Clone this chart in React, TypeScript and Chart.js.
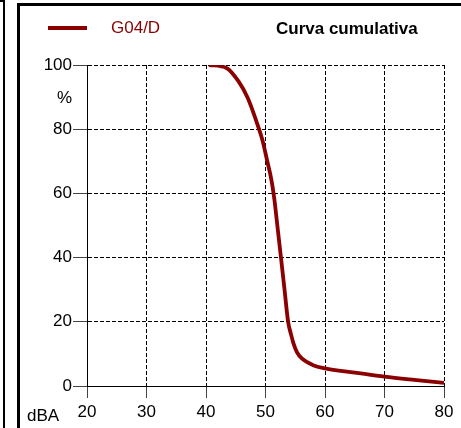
import React, { useEffect, useRef } from "react";
import { Chart, registerables } from "chart.js";

Chart.register(...registerables);

// dBA levels and cumulative percentages
const levels = [40.5, 43.5, 45.5, 47, 48.5, 49.5, 50.3, 50.8, 51.15, 51.5, 51.9, 52.6, 53.2, 53.8, 54.3, 54.7, 55.3, 56.1, 58, 60, 65, 70, 75, 80];
const percents = [100, 99, 94.8, 89.8, 82.3, 76.5, 70, 66, 62.5, 58, 51.5, 40, 30, 20, 16, 13.3, 10.5, 8.6, 6.5, 5.5, 4.2, 2.9, 1.9, 1.0];
const seriesName = "G04/D";
const chartTitle = "Curva cumulativa";
const xTicks = [20, 30, 40, 50, 60, 70, 80];
const yTicks = [0, 20, 40, 60, 80, 100];
const xUnit = "dBA";
const yUnit = "%";

const RED = "#8b0000";
const FONT = "'Liberation Sans', Arial, sans-serif";

export default function App() {
  const ref = useRef<HTMLCanvasElement | null>(null);

  useEffect(() => {
    if (!ref.current) return;
    const chart = new Chart(ref.current, {
      type: "line",
      data: {
        datasets: [
          {
            label: seriesName,
            data: levels.map((x, i) => ({ x, y: percents[i] })),
            borderColor: RED,
            backgroundColor: RED,
            borderWidth: 3.8,
            pointRadius: 0,
            cubicInterpolationMode: "monotone",
            fill: false,
          },
        ],
      },
      options: {
        responsive: false,
        animation: false,
        devicePixelRatio: 1,
        layout: { padding: { left: 0, top: 65, right: 17, bottom: 0 } },
        plugins: {
          legend: { display: false },
          title: { display: false },
          tooltip: { enabled: false },
        },
        scales: {
          x: {
            type: "linear",
            min: xTicks[0],
            max: xTicks[xTicks.length - 1],
            afterBuildTicks: (s: any) => {
              s.ticks = xTicks.map((v) => ({ value: v }));
            },
            afterFit: (s: any) => {
              s.height = 42;
            },
            ticks: {
              color: "#000",
              font: { family: FONT, size: 17 },
              padding: 4,
              maxRotation: 0,
            },
            grid: {
              color: "#000",
              lineWidth: 1,
              borderDash: [4, 2],
              tickBorderDash: [],
              tickColor: "#444",
              tickLength: 12,
            },
            border: { display: true, color: "#000", dash: [4, 2], width: 1 },
          },
          y: {
            type: "linear",
            min: yTicks[0],
            max: yTicks[yTicks.length - 1],
            afterBuildTicks: (s: any) => {
              s.ticks = yTicks.map((v) => ({ value: v }));
            },
            afterFit: (s: any) => {
              s.width = 87;
            },
            ticks: {
              color: "#000",
              font: { family: FONT, size: 17 },
              padding: 1,
            },
            grid: {
              color: "#000",
              lineWidth: 1,
              borderDash: [4, 2],
              tickBorderDash: [],
              tickColor: "#444",
              tickLength: 14,
            },
            border: { display: true, color: "#000", dash: [4, 2], width: 1 },
          },
        },
      } as any,
    });
    return () => chart.destroy();
  }, []);

  const txt = (extra: React.CSSProperties): React.CSSProperties => ({
    position: "absolute",
    fontFamily: FONT,
    fontSize: 17,
    lineHeight: "20px",
    whiteSpace: "nowrap",
    ...extra,
  });

  return (
    <div style={{ position: "fixed", left: 0, top: 0, width: 461, height: 428, background: "#fff", overflow: "hidden" }}>
      <canvas ref={ref} width={461} height={428} style={{ position: "absolute", left: 0, top: 0, width: 461, height: 428 }} />
      {/* frame lines */}
      <div style={{ position: "absolute", left: 3, top: 0, width: 2, height: 428, background: "#000" }} />
      <div style={{ position: "absolute", left: 0, top: 0, width: 5, height: 2, background: "#000" }} />
      <div style={{ position: "absolute", left: 17, top: 3, width: 3, height: 425, background: "#000" }} />
      <div style={{ position: "absolute", left: 17, top: 3, width: 444, height: 3, background: "#000" }} />
      {/* legend */}
      <div style={{ position: "absolute", left: 48, top: 26, width: 39, height: 4, background: RED }} />
      <div style={txt({ left: 111, top: 17.5, color: RED })}>{seriesName}</div>
      <div style={txt({ left: 276, top: 18.5, color: "#000", fontWeight: "bold" })}>{chartTitle}</div>
      <div style={txt({ left: 57, top: 88, color: "#000" })}>{yUnit}</div>
      <div style={txt({ left: 27, top: 405.5, color: "#000" })}>{xUnit}</div>
    </div>
  );
}
